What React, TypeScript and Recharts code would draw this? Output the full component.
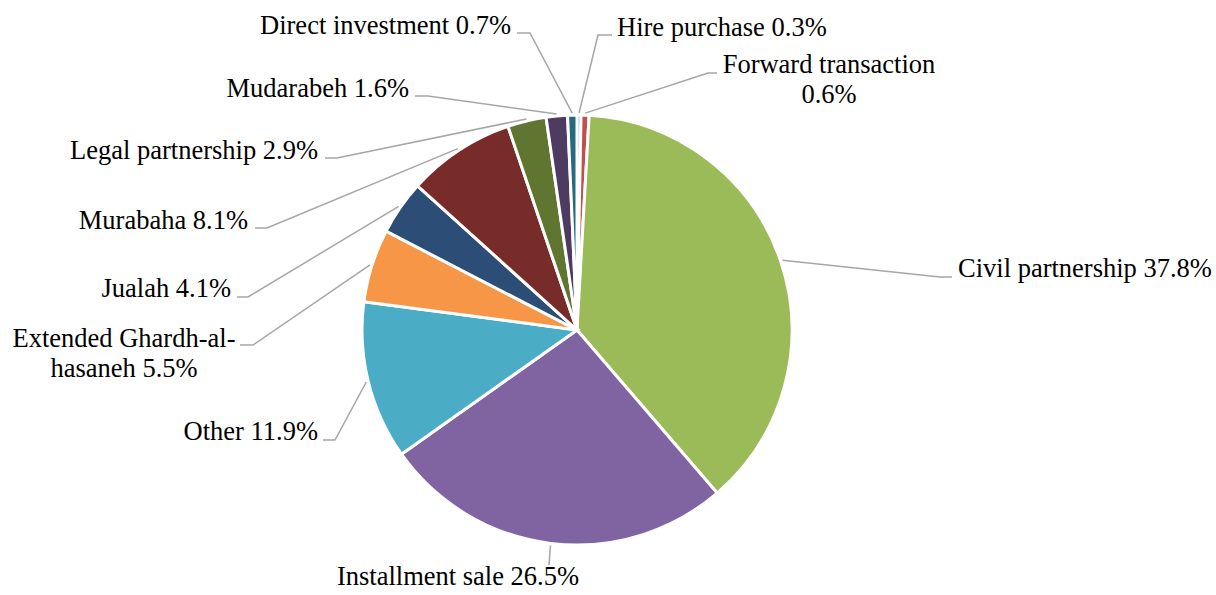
import React from "react";
import { PieChart, Pie, Cell } from "recharts";

// slices in drawing order, clockwise from 12 o'clock
const names = [
  "Hire purchase",
  "Forward transaction",
  "Civil partnership",
  "Installment sale",
  "Other",
  "Extended Ghardh-al-hasaneh",
  "Jualah",
  "Murabaha",
  "Legal partnership",
  "Mudarabeh",
  "Direct investment",
];
const shares = [0.3, 0.6, 37.8, 26.5, 11.9, 5.5, 4.1, 8.1, 2.9, 1.6, 0.7];

const colors = [
  "#4F81BD",
  "#C0504D",
  "#9BBB59",
  "#8064A2",
  "#4BACC6",
  "#F79646",
  "#2C4D75",
  "#772C2A",
  "#5F7530",
  "#4D3B62",
  "#276A7C",
];

const data = names.map((name, i) => ({ name, value: shares[i] }));

// label placement, offsets from the pie centre (elbow, end of leader, text anchor)
type LabelLayout = {
  elbow: [number, number];
  end: [number, number];
  text: [number, number];
  anchor: "start" | "middle" | "end";
  wrap?: number;
};
const labelLayout: LabelLayout[] = [
  { elbow: [21, -295], end: [35, -295], text: [40, -294], anchor: "start" },
  { elbow: [131, -257], end: [140, -257], text: [252, -257], anchor: "middle", wrap: 19 },
  { elbow: [363, -53], end: [375, -53], text: [381, -53], anchor: "start" },
  { elbow: [-28, 235], end: [-28, 235], text: [-119, 255], anchor: "middle" },
  { elbow: [-242, 110], end: [-254, 110], text: [-259, 110], anchor: "end" },
  { elbow: [-324, 15], end: [-337, 15], text: [-453, 17], anchor: "middle", wrap: 19 },
  { elbow: [-329, -33], end: [-340, -33], text: [-346, -33], anchor: "end" },
  { elbow: [-310, -102], end: [-322, -102], text: [-329, -101], anchor: "end" },
  { elbow: [-240, -172], end: [-252, -172], text: [-259, -171], anchor: "end" },
  { elbow: [-149, -234], end: [-162, -234], text: [-168, -233], anchor: "end" },
  { elbow: [-47, -297], end: [-60, -297], text: [-66, -296], anchor: "end" },
];

const RAD = Math.PI / 180;
const FONT = "Liberation Serif, Times New Roman, serif";

function renderLabel(props: any) {
  const { cx, cy, midAngle, outerRadius, index, name, value } = props;
  const lay = labelLayout[index];
  const sx = cx + (outerRadius + 2) * Math.cos(-midAngle * RAD);
  const sy = cy + (outerRadius + 2) * Math.sin(-midAngle * RAD);
  const full = `${name} ${Number(value).toFixed(1)}%`;
  const lines = lay.wrap
    ? [full.slice(0, lay.wrap).trim(), full.slice(lay.wrap).trim()]
    : [full];
  const pts = `${sx},${sy} ${cx + lay.elbow[0]},${cy + lay.elbow[1]} ${cx + lay.end[0]},${cy + lay.end[1]}`;
  return (
    <g key={`lbl-${index}`}>
      <polyline points={pts} fill="none" stroke="#A6A6A6" strokeWidth={1.5} />
      <text
        x={cx + lay.text[0]}
        y={cy + lay.text[1]}
        textAnchor={lay.anchor}
        fill="#000"
        style={{ fontFamily: FONT, fontSize: 26.5 }}
      >
        {lines.map((l, i) => (
          <tspan key={i} x={cx + lay.text[0]} dy={i === 0 ? 0 : 30}>
            {l}
          </tspan>
        ))}
      </text>
    </g>
  );
}

export default function App() {
  return (
    <div style={{ position: "absolute", left: 0, top: 0, background: "#fff" }}>
      <PieChart width={1216} height={595} margin={{ top: 0, right: 0, bottom: 0, left: 0 }}>
        <Pie
          data={data}
          dataKey="value"
          nameKey="name"
          cx={577}
          cy={330}
          outerRadius={215}
          startAngle={90}
          endAngle={-270}
          stroke="#fff"
          strokeWidth={3}
          label={renderLabel}
          labelLine={false}
          isAnimationActive={false}
        >
          {data.map((d, i) => (
            <Cell key={d.name} fill={colors[i]} />
          ))}
        </Pie>
      </PieChart>
    </div>
  );
}
